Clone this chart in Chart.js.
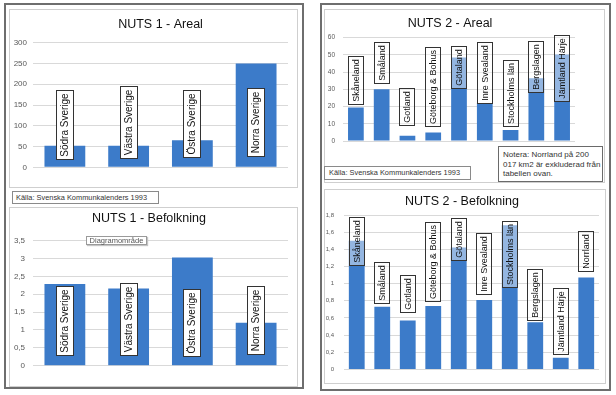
<!DOCTYPE html>
<html>
<head>
<meta charset="utf-8">
<script src="https://cdn.jsdelivr.net/npm/chart.js@4.4.1/dist/chart.umd.min.js"></script>
<style>
  html, body { margin: 0; padding: 0; background: #fff; }
  body { width: 616px; height: 395px; position: relative; overflow: hidden; font-family: "Liberation Sans", Arial, sans-serif; }
  .frame { position: absolute; box-sizing: border-box; border: 2px solid #6e6e6e; }
  .cbox { position: absolute; box-sizing: border-box; border: 1px solid #cfcfcf; background: #fff; }
  .cbox canvas { position: absolute; left: 0; top: 0; }
  .note { position: absolute; box-sizing: border-box; border: 1px solid #8a8a8a; background: #fff; color: #333; font-size: 8px; white-space: nowrap; }
  .tip { position: absolute; box-sizing: border-box; border: 1px solid #9a9a9a; background: #fff; color: #555; font-size: 7.5px; line-height: 8px; text-align: center; box-shadow: 1px 1px 1px #c4c4c4; }
</style>
</head>
<body>
<div class="frame" style="left:4px;top:3px;width:300px;height:386px;"></div>
<div class="frame" style="left:320px;top:3px;width:291px;height:388px;"></div>

<div class="cbox" style="left:9px;top:9px;width:289px;height:179px;"><canvas id="c1" width="287" height="177"></canvas></div>
<div class="cbox" style="left:9px;top:207px;width:289px;height:180px;"><canvas id="c2" width="287" height="178"></canvas></div>
<div class="cbox" style="left:324px;top:9px;width:281px;height:174px;"><canvas id="c3" width="279" height="172"></canvas></div>
<div class="cbox" style="left:324px;top:189px;width:282px;height:195px;"><canvas id="c4" width="280" height="193"></canvas></div>

<div class="note" style="left:12px;top:191px;width:147px;height:13px;line-height:11px;padding-left:3px;font-size:7.4px;">Källa: Svenska Kommunkalenders 1993</div>
<div class="note" style="left:324px;top:166px;width:147px;height:14px;line-height:12px;padding-left:4px;font-size:7.4px;">Källa: Svenska Kommunkalenders 1993</div>
<div class="note" style="left:498px;top:146px;width:105px;height:36px;line-height:9.7px;padding:3px 0 0 4px;border-color:#6a6a6a;">Notera: Norrland på 200<br>017 km2 är exkluderad från<br>tabellen ovan.</div>
<div class="tip" style="left:86px;top:236px;width:61px;height:9px;">Diagramområde</div>

<script>
// ---------- data ----------
const nuts1Categories = ['Södra Sverige', 'Västra Sverige', 'Östra Sverige', 'Norra Sverige'];
const nuts1Areal = [52, 52, 65, 250];
const nuts1Befolkning = [2.29, 2.16, 3.03, 1.2];

const nuts2ArealCategories = ['Skåneland', 'Småland', 'Gotland', 'Göteborg & Bohus', 'Götaland', 'Inre Svealand', 'Stockholms län', 'Bergslagen', 'Jämtland Härje'];
const nuts2Areal = [19.5, 30, 3.1, 5, 48.5, 22, 6.4, 36.5, 50.3];

const nuts2BefCategories = ['Skåneland', 'Småland', 'Gotland', 'Göteborg & Bohus', 'Götaland', 'Inre Svealand', 'Stockholms län', 'Bergslagen', 'Jämtland Härje', 'Norrland'];
const nuts2Befolkning = [1.5, 0.73, 0.57, 0.74, 1.42, 0.81, 1.68, 0.55, 0.135, 1.07];

const ticks1 = ['0', '50', '100', '150', '200', '250', '300'];
const ticks2 = ['0', '0,5', '1', '1,5', '2', '2,5', '3', '3,5'];
const ticks3 = ['0', '10', '20', '30', '40', '50', '60'];
const ticks4 = ['0', '0,2', '0,4', '0,6', '0,8', '1', '1,2', '1,4', '1,6', '1,8'];

// ---------- layout / style (not data) ----------
const FONT = '"Liberation Sans", Arial, sans-serif';
const BAR = '#3c7bc9';

const boxLabels = {
  id: 'boxLabels',
  afterDatasetsDraw(chart, args, o) {
    const ctx = chart.ctx;
    const meta = chart.getDatasetMeta(0);
    const ys = chart.scales.y;
    ctx.save();
    ctx.font = o.size + 'px ' + FONT;
    meta.data.forEach((bar, i) => {
      const text = chart.data.labels[i];
      const h = Math.round(ctx.measureText(text).width + o.pad * 2);
      const w = o.width;
      const cx = Math.round(bar.x);
      const cy = Math.round(ys.getPixelForValue(o.centers[i]));
      const x0 = Math.round(cx - w / 2), y0 = Math.round(cy - h / 2);
      ctx.fillStyle = o.fill;
      ctx.fillRect(x0, y0, w, h);
      ctx.strokeStyle = '#333';
      ctx.lineWidth = 1;
      ctx.strokeRect(x0 + 0.5, y0 + 0.5, w - 1, h - 1);
      ctx.save();
      ctx.translate(x0 + w / 2, y0 + h / 2);
      ctx.rotate(-Math.PI / 2);
      ctx.fillStyle = '#111';
      ctx.textAlign = 'center';
      ctx.textBaseline = 'middle';
      ctx.fillText(text, 0, 0.5);
      ctx.restore();
    });
    ctx.restore();
  }
};

function makeChart(id, cfg) {
  return new Chart(document.getElementById(id), {
    type: 'bar',
    data: {
      labels: cfg.labels,
      datasets: [{ data: cfg.values, backgroundColor: BAR, borderWidth: 0, barPercentage: cfg.barPct, categoryPercentage: 1 }]
    },
    options: {
      responsive: false,
      animation: false,
      devicePixelRatio: 1,
      layout: { padding: { left: 0, top: 0, right: cfg.padRight, bottom: cfg.padBottom } },
      plugins: {
        legend: { display: false },
        tooltip: { enabled: false },
        title: {
          display: true, text: cfg.title, color: '#111', fullSize: cfg.fullSize,
          font: { family: FONT, size: 12.5, weight: 'normal', lineHeight: 1.2 },
          padding: { top: cfg.titleTop, bottom: cfg.titleBottom }
        },
        boxLabels: { centers: cfg.centers, width: cfg.boxW, size: cfg.boxFont, pad: cfg.boxPad, fill: cfg.boxFill }
      },
      scales: {
        x: { display: false },
        y: {
          min: 0, max: cfg.max,
          afterFit: s => { s.width = cfg.axisW; },
          border: { display: false },
          grid: { color: '#d9d9d9', lineWidth: 1, drawTicks: false },
          ticks: {
            stepSize: cfg.step, padding: cfg.tickPad, color: '#595959',
            font: { family: FONT, size: cfg.tickFont },
            callback: (v, i) => cfg.tickLabels[i]
          }
        }
      }
    },
    plugins: [boxLabels]
  });
}

makeChart('c1', {
  labels: nuts1Categories, values: nuts1Areal, title: 'NUTS 1 - Areal',
  max: 300, step: 50, tickLabels: ticks1, axisW: 23, tickPad: 6, tickFont: 8,
  padRight: 9, padBottom: 19.7, titleTop: 7.2, titleBottom: 10.5, fullSize: false,
  barPct: 0.64, centers: [103, 110, 105, 108], boxW: 18, boxFont: 10, boxPad: 3.5, boxFill: '#ffffff'
});
makeChart('c2', {
  labels: nuts1Categories, values: nuts1Befolkning, title: 'NUTS 1 - Befolkning',
  max: 3.5, step: 0.5, tickLabels: ticks2, axisW: 23, tickPad: 8, tickFont: 8,
  padRight: 9, padBottom: 20.3, titleTop: 2.8, titleBottom: 14.9, fullSize: true,
  barPct: 0.64, centers: [1.25, 1.32, 1.19, 1.27], boxW: 18, boxFont: 10, boxPad: 3.5, boxFill: '#ffffff'
});
makeChart('c3', {
  labels: nuts2ArealCategories, values: nuts2Areal, title: 'NUTS 2 - Areal',
  max: 60, step: 10, tickLabels: ticks3, axisW: 18, tickPad: 8, tickFont: 6.5,
  padRight: 29, padBottom: 41, titleTop: 6.5, titleBottom: 6.2, fullSize: true,
  barPct: 0.61, centers: [35.3, 45.4, 19.9, 31.2, 42.7, 39.3, 28.1, 42.7, 42.2], boxW: 16, boxFont: 9, boxPad: 3, boxFill: 'rgba(255,255,255,0.45)'
});
makeChart('c4', {
  labels: nuts2BefCategories, values: nuts2Befolkning, title: 'NUTS 2 - Befolkning',
  max: 1.8, step: 0.2, tickLabels: ticks4, axisW: 19, tickPad: 10, tickFont: 6,
  padRight: 6, padBottom: 12.3, titleTop: 4.2, titleBottom: 5.8, fullSize: true,
  barPct: 0.62, centers: [1.497, 1.012, 0.875, 1.253, 1.517, 1.23, 1.351, 0.873, 0.56, 1.386], boxW: 16, boxFont: 9, boxPad: 3, boxFill: 'rgba(255,255,255,0.45)'
});
</script>
</body>
</html>
